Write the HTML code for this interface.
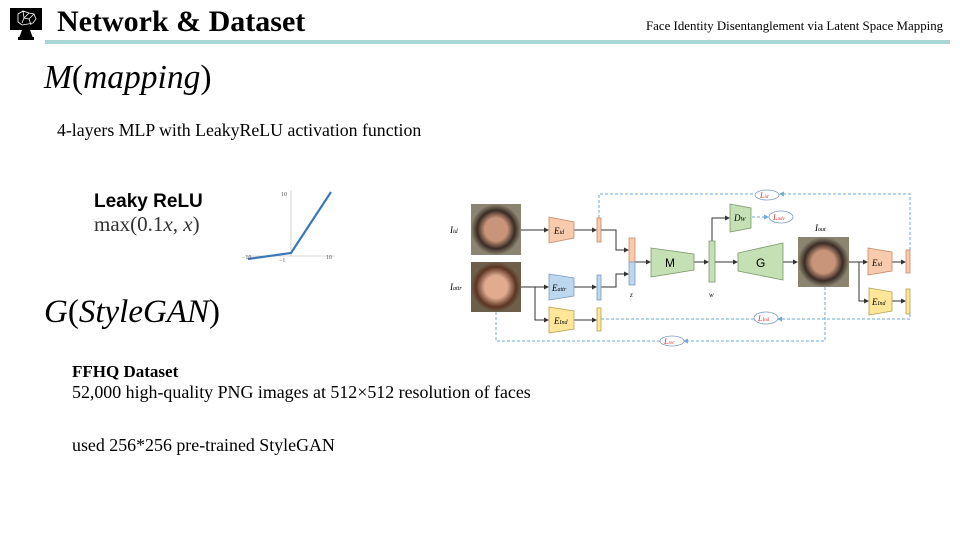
<!DOCTYPE html>
<html><head><meta charset="utf-8"><style>
body{margin:0;width:960px;height:540px;background:#fff;position:relative;overflow:hidden;font-family:"Liberation Serif",serif;color:#000}
.a{position:absolute;white-space:nowrap}
</style></head><body>
<svg class="a" style="left:8px;top:6px" width="38" height="36" viewBox="0 0 38 36">
<rect x="2" y="2" width="32" height="22" fill="#000"/>
<g stroke="#fff" stroke-width="0.8" fill="none"><path d="M10 8l5-3 6 2 5 1 2 5-3 4-5 1-6 1-4-3z M15 5l1 7 5-5 M16 12l5 1 5-5 M16 12l-2 5 M21 13l2 6"/></g>
<path d="M14 24h8l3 8h-14z" fill="#000"/><rect x="10" y="31" width="16" height="3" fill="#000"/>
</svg>
<div class="a" style="left:57px;top:5px;font-size:30px;font-weight:bold">Network &amp; Dataset</div>
<div class="a" style="left:45px;top:40px;width:905px;height:4px;background:#a9d6d4"></div>
<div class="a" style="left:646px;top:19px;font-size:12.9px">Face Identity Disentanglement via Latent Space Mapping</div>
<div class="a" style="left:44px;top:59px;font-size:33.5px"><i>M</i>(<i>mapping</i>)</div>
<div class="a" style="left:57px;top:120px;font-size:17.8px">4-layers MLP with LeakyReLU activation function</div>
<div class="a" style="left:94px;top:191px;font-size:19px;font-weight:bold;font-family:'Liberation Sans',sans-serif">Leaky ReLU</div>
<div class="a" style="left:94px;top:212px;font-size:21px;color:#333">max(0.1<i>x</i>, <i>x</i>)</div>
<svg class="a" style="left:240px;top:188px" width="100" height="75">
<line x1="51" y1="2" x2="51" y2="68" stroke="#ccc" stroke-width="0.8"/>
<line x1="5" y1="68" x2="95" y2="68" stroke="#ccc" stroke-width="0.8"/>
<polyline points="8,71 51,65 91,4" fill="none" stroke="#3b78b8" stroke-width="2.2"/>
<text x="41" y="8" font-size="6" fill="#555">10</text><text x="86" y="71" font-size="6" fill="#555">10</text>
<text x="2" y="71" font-size="6" fill="#555">−10</text><text x="39" y="74" font-size="6" fill="#555">−1</text>
</svg>
<div class="a" style="left:44px;top:294px;font-size:33px"><i>G</i>(<i>StyleGAN</i>)</div>
<div class="a" style="left:72px;top:362px;font-size:17px;font-weight:bold">FFHQ Dataset</div>
<div class="a" style="left:72px;top:382px;font-size:17.9px">52,000 high-quality PNG images at 512×512 resolution of faces</div>
<div class="a" style="left:72px;top:435px;font-size:17.9px">used 256*256 pre-trained StyleGAN</div>

<svg class="a" style="left:0;top:0" width="960" height="540">
<defs><marker id="ar" markerWidth="5" markerHeight="5" refX="4" refY="2.5" orient="auto"><path d="M0,0L5,2.5L0,5z" fill="#333"/></marker>
<marker id="ab" markerWidth="5" markerHeight="5" refX="4" refY="2.5" orient="auto"><path d="M0,0L5,2.5L0,5z" fill="#6fa8dc"/></marker>
<radialGradient id="f1"><stop offset="0.45" stop-color="#c9957a"/><stop offset="0.75" stop-color="#3a2c25"/><stop offset="1" stop-color="#8b8470"/></radialGradient>
<radialGradient id="f2"><stop offset="0.45" stop-color="#e0ab8f"/><stop offset="0.8" stop-color="#5b3423"/><stop offset="1" stop-color="#6e5f4b"/></radialGradient>
</defs>
<g font-family="Liberation Serif" font-style="italic" font-size="9">
<rect x="471" y="204" width="50" height="51" fill="url(#f1)"/>
<rect x="471" y="262" width="50" height="50" fill="url(#f2)"/>
<rect x="798" y="237" width="51" height="50" fill="url(#f1)"/>
<text x="450" y="233">I<tspan font-size="6">id</tspan></text>
<text x="450" y="290">I<tspan font-size="6">attr</tspan></text>
<text x="815" y="231">I<tspan font-size="6">out</tspan></text>
<g fill="none" stroke="#6fa8dc" stroke-dasharray="3,2" stroke-width="1">
<polyline points="599,218 599,194 754,194"/><polyline points="910,250 910,194 780,194" marker-end="url(#ab)"/>
<polyline points="496,312 496,341 660,341"/><polyline points="825,287 825,341 684,341" marker-end="url(#ab)"/>
<polyline points="601,319 754,319"/><polyline points="910,314 910,319 778,319" marker-end="url(#ab)"/>
<line x1="752" y1="217" x2="768" y2="217" marker-end="url(#ab)"/>
</g>
<g fill="none" stroke="#333" stroke-width="1">
<line x1="521" y1="230" x2="548" y2="230" marker-end="url(#ar)"/>
<line x1="574" y1="230" x2="596" y2="230" marker-end="url(#ar)"/>
<polyline points="601,230 616,230 616,250 628,250" marker-end="url(#ar)"/>
<line x1="521" y1="287" x2="548" y2="287" marker-end="url(#ar)"/>
<polyline points="535,287 535,320 548,320" marker-end="url(#ar)"/>
<line x1="574" y1="287" x2="596" y2="287" marker-end="url(#ar)"/>
<polyline points="601,287 616,287 616,274 628,274" marker-end="url(#ar)"/>
<line x1="574" y1="320" x2="596" y2="320" marker-end="url(#ar)"/>
<line x1="635" y1="262" x2="650" y2="262" marker-end="url(#ar)"/>
<line x1="694" y1="262" x2="708" y2="262" marker-end="url(#ar)"/>
<polyline points="712,241 712,218 729,218" marker-end="url(#ar)"/>
<line x1="715" y1="262" x2="737" y2="262" marker-end="url(#ar)"/>
<line x1="783" y1="262" x2="797" y2="262" marker-end="url(#ar)"/>
<line x1="849" y1="262" x2="867" y2="262" marker-end="url(#ar)"/>
<polyline points="859,262 859,301 868,301" marker-end="url(#ar)"/>
<line x1="892" y1="262" x2="905" y2="262" marker-end="url(#ar)"/>
<line x1="892" y1="301" x2="905" y2="301" marker-end="url(#ar)"/>
</g>
<g stroke-width="0.8">
<path d="M549,217L574,222L574,238L549,243z" fill="#f8cbad" stroke="#c5896a"/>
<path d="M549,274L574,278L574,296L549,300z" fill="#bdd7ee" stroke="#7c9cc0"/>
<path d="M549,307L574,311L574,329L549,333z" fill="#ffe699" stroke="#b8a050"/>
<path d="M868,248L892,252L892,271L868,275z" fill="#f8cbad" stroke="#c5896a"/>
<path d="M869,288L892,292L892,311L869,315z" fill="#ffe699" stroke="#b8a050"/>
<path d="M651,248L694,254L694,270L651,277z" fill="#c5e0b4" stroke="#7a9a6a"/>
<path d="M738,253L783,243L783,280L738,271z" fill="#c5e0b4" stroke="#7a9a6a"/>
<path d="M730,204L751,208L751,228L730,232z" fill="#c5e0b4" stroke="#7a9a6a"/>
<rect x="597" y="218" width="4" height="24" fill="#f8cbad" stroke="#c5896a"/>
<rect x="597" y="275" width="4" height="25" fill="#bdd7ee" stroke="#7c9cc0"/>
<rect x="597" y="308" width="4" height="23" fill="#ffe699" stroke="#b8a050"/>
<rect x="629" y="238" width="6" height="24" fill="#f8cbad" stroke="#c5896a"/>
<rect x="629" y="262" width="6" height="23" fill="#bdd7ee" stroke="#7c9cc0"/>
<rect x="709" y="241" width="6" height="41" fill="#c5e0b4" stroke="#7a9a6a"/>
<rect x="906" y="250" width="4" height="23" fill="#f8cbad" stroke="#c5896a"/>
<rect x="906" y="289" width="4" height="25" fill="#ffe699" stroke="#b8a050"/>
<g fill="#fff" stroke="#7c9cc0"><ellipse cx="767" cy="195" rx="12" ry="5"/><ellipse cx="781" cy="217" rx="12" ry="6"/><ellipse cx="766" cy="318" rx="12" ry="6"/><ellipse cx="672" cy="341" rx="12" ry="5"/></g>
</g>
<text x="554" y="234">E<tspan font-size="6">id</tspan></text>
<text x="552" y="291">E<tspan font-size="6">attr</tspan></text>
<text x="554" y="324">E<tspan font-size="6">Ind</tspan></text>
<text x="872" y="266">E<tspan font-size="6">id</tspan></text>
<text x="872" y="305">E<tspan font-size="6">Ind</tspan></text>
<text x="734" y="221">D<tspan font-size="6">W</tspan></text>
<text x="630" y="297" font-size="7">z</text><text x="709" y="297" font-size="7">w</text>
<g fill="#e03030" font-size="8"><text x="760" y="198">L<tspan font-size="5">id</tspan></text><text x="773" y="220">L<tspan font-size="5">adv</tspan></text><text x="758" y="321">L<tspan font-size="5">Ind</tspan></text><text x="664" y="344">L<tspan font-size="5">rec</tspan></text></g>
</g>
<g font-family="Liberation Sans" font-size="12" fill="#000"><text x="665" y="267">M</text><text x="756" y="267">G</text></g>
</svg>
</body></html>
